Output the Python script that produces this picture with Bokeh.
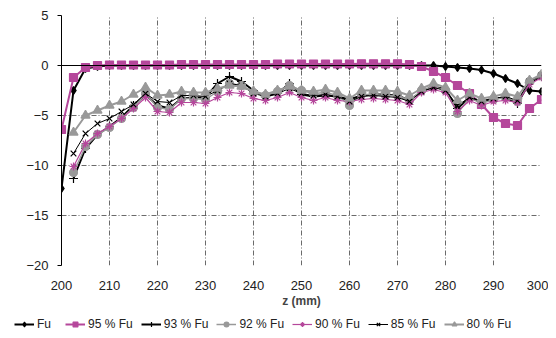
import numpy as np
from bokeh.plotting import figure
from bokeh.models import Range1d, Span, Label, Legend, LegendItem, FixedTicker
from bokeh.embed import file_html
from bokeh.resources import INLINE

z = [200 + 2.5 * i for i in range(41)]
z2 = z[1:]

fu = [-12.3, -2.5, -0.3, -0.1] + [0.0] * 28 + [-0.1, -0.2, -0.3, -0.45, -0.8, -1.3, -1.8, -2.5, -2.6]
fu = fu[:41]
fu95 = [-6.4, -1.2, -0.2, 0.0, 0.05, 0.05, 0.05, 0.05, 0.05, 0.05, 0.1, 0.1, 0.1, 0.1, 0.1, 0.1,
        0.1, 0.1, 0.15, 0.15, 0.15, 0.15, 0.15, 0.15, 0.15, 0.17, 0.17, 0.17, 0.17, 0.1, -0.1,
        -0.6, -1.2, -2.0, -2.8, -3.9, -5.2, -5.8, -6.0, -4.3, -3.4]
fu93 = [-11.3, -8.3, -6.9, -6.1, -5.2, -4.0, -2.9, -4.0, -4.3, -3.3, -3.2, -3.2, -1.8, -1.1,
        -1.6, -2.5, -3.1, -2.8, -1.8, -2.9, -3.1, -3.0, -3.1, -3.4, -3.0, -2.9, -2.9, -3.0,
        -3.5, -2.6, -2.1, -2.4, -4.3, -3.2, -3.6, -3.3, -3.2, -3.8, -1.7, -1.1]
fu92 = [-10.7, -8.1, -6.9, -6.2, -5.3, -4.2, -2.8, -4.2, -4.4, -3.3, -3.3, -3.4, -2.6, -1.8,
        -2.0, -2.7, -3.0, -2.6, -2.0, -2.5, -2.8, -2.7, -3.0, -4.0, -2.9, -2.9, -3.0, -3.0,
        -3.5, -2.5, -2.1, -2.5, -4.8, -3.2, -3.8, -3.4, -3.2, -3.6, -1.6, -1.0]
fu90 = [-10.1, -7.8, -6.8, -6.1, -5.3, -4.3, -3.2, -4.6, -4.7, -3.7, -3.7, -3.8, -3.2, -2.7,
        -2.8, -3.3, -3.5, -3.2, -2.7, -3.2, -3.5, -3.2, -3.5, -3.6, -3.4, -3.3, -3.4, -3.5,
        -3.9, -2.7, -2.4, -2.7, -4.6, -3.5, -4.0, -3.6, -3.5, -3.7, -1.9, -1.2]
fu85 = [-8.8, -6.8, -5.8, -5.3, -4.6, -3.9, -2.8, -3.6, -3.7, -3.0, -3.0, -3.1, -2.5, -1.8,
        -2.0, -2.8, -3.1, -2.8, -2.3, -2.8, -3.0, -2.9, -3.1, -3.6, -3.1, -3.0, -3.1, -3.2,
        -3.6, -2.6, -2.2, -2.5, -4.0, -3.2, -3.6, -3.3, -3.1, -3.5, -1.6, -1.0]
fu80 = [-6.7, -5.0, -4.5, -4.0, -3.6, -2.9, -2.2, -3.0, -2.9, -2.6, -2.7, -2.7, -2.3, -2.0,
        -2.1, -2.6, -2.9, -2.5, -2.1, -2.5, -2.6, -2.4, -2.7, -3.3, -2.5, -2.5, -2.5, -2.6,
        -3.0, -2.3, -1.8, -2.2, -3.5, -2.8, -3.3, -3.1, -2.8, -3.1, -1.5, -0.9]

x_ticks = [200, 210, 220, 230, 240, 250, 260, 270, 280, 290, 300]
y_ticks = [5, 0, -5, -10, -15, -20]

FONT = "Liberation Sans"
MAG = "#B5479B"
GREY = "#999999"

p = figure(width=548, height=310, output_backend="svg", toolbar_location=None,
           x_range=Range1d(200, 300), y_range=Range1d(-20, 5),
           min_border_left=61, min_border_right=7, min_border_top=15, min_border_bottom=45)
p.outline_line_color = None
p.background_fill_color = "white"

p.xaxis.ticker = FixedTicker(ticks=x_ticks)
p.yaxis.ticker = FixedTicker(ticks=y_ticks)
for ax in (p.xaxis, p.yaxis):
    ax.major_label_text_font = FONT
    ax.major_label_text_font_size = "13px"
    ax.major_label_text_color = "#222222"
    ax.minor_tick_line_color = None
p.xaxis.axis_line_color = None
p.xaxis.major_tick_line_color = None
p.xaxis.major_label_standoff = 9
p.xaxis.axis_label = "z (mm)"
p.xaxis.axis_label_text_font = FONT
p.xaxis.axis_label_text_font_style = "bold"
p.xaxis.axis_label_text_font_size = "12px"
p.xaxis.axis_label_standoff = 1
p.yaxis.axis_line_color = "black"
p.yaxis.major_tick_out = 4
p.yaxis.major_tick_in = 0
p.yaxis.major_label_standoff = 9

for g in (p.xgrid, p.ygrid):
    g.grid_line_color = "#444444"
    g.grid_line_dash = "5 2 1 2"
    g.grid_line_width = 0.8

p.add_layout(Span(location=0, dimension="width", line_color="black", line_width=1.2))

# legend figure (its renderers hold one point outside the visible range)
lf = figure(width=548, height=28, output_backend="svg", toolbar_location=None,
            x_range=Range1d(0, 1), y_range=Range1d(0, 1),
            min_border=0)
lf.axis.visible = False
lf.grid.visible = False
lf.outline_line_color = None

items = []
def series(x, y, label, color, marker, size, lw):
    p.line(x, y, line_color=color, line_width=lw)
    p.scatter(x, y, marker=marker, size=size, line_color=color,
              fill_color=color, line_width=1.2)
    l1 = lf.line([-10, -9], [-10, -10], line_color=color, line_width=lw)
    l2 = lf.scatter([-10], [-10], marker=marker, size=size - 1, line_color=color,
                    fill_color=color, line_width=1.2)
    items.append(LegendItem(label=label, renderers=[l1, l2]))

series(z, fu, "Fu", "black", "diamond", 8, 2)
series(z, fu95, "95 % Fu", MAG, "square", 8, 2)
series(z2, fu93, "93 % Fu", "black", "cross", 9, 2)
series(z2, fu92, "92 % Fu", GREY, "circle", 8, 1.5)
series(z2, fu90, "90 % Fu", MAG, "asterisk", 8, 1.2)
series(z2, fu85, "85 % Fu", "black", "x", 8, 1)
series(z2, fu80, "80 % Fu", GREY, "triangle", 9, 2)

leg = Legend(items=items, orientation="horizontal", location=(14, 7))
leg.label_text_font = FONT
leg.label_text_font_size = "12px"
leg.label_text_color = "#222222"
leg.label_height = 12
leg.glyph_width = 20
leg.glyph_height = 12
leg.label_standoff = 3
leg.spacing = 8
leg.padding = 2
leg.margin = 0
leg.border_line_color = None
leg.background_fill_alpha = 0
lf.add_layout(leg, "center")

p.add_layout(Label(x=191.25, y=-8.0, text="σ", angle=np.pi / 2, text_align="center",
                   text_baseline="middle", text_font=FONT, text_font_style="italic",
                   text_font_size="16px", text_color="#222222"))
p.add_layout(Label(x=192.4, y=-6.7, text="zz", angle=np.pi / 2, text_align="center",
                   text_baseline="middle", text_font=FONT, text_font_style="italic",
                   text_font_size="10px", text_color="#222222"))

open("out.html", "w").write(file_html([p, lf], INLINE))
